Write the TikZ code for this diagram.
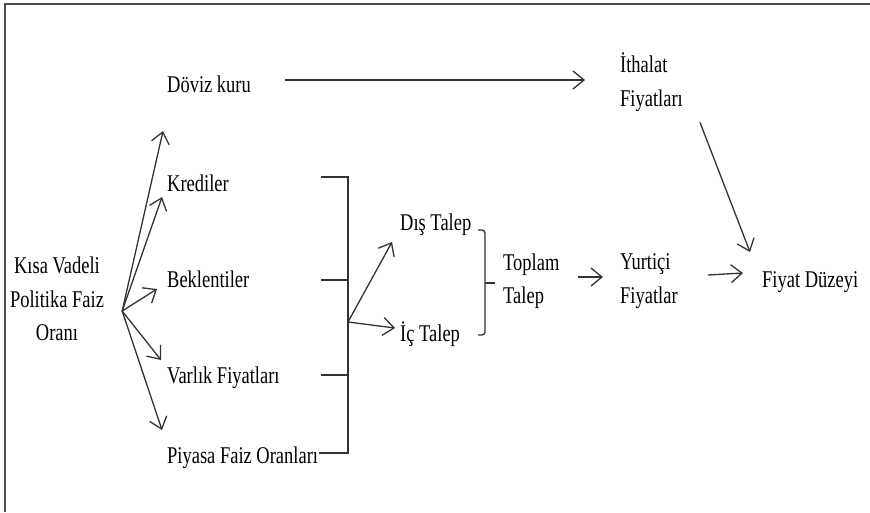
\documentclass[tikz,border=0pt]{standalone}
\usepackage{fontspec}
\setmainfont{Liberation Serif}[FakeStretch=0.77]
\usetikzlibrary{arrows.meta,calc}
\begin{document}
\begin{tikzpicture}[x=1pt,y=-1pt,
  lbl/.style={inner sep=0pt, font=\fontsize{24}{33.5}\selectfont, text=black},
  ln/.style={draw=black!80, line width=1.3pt},
  arr/.style={ln, -{Straight Barb[length=11pt,width=18pt]}},
  frame/.style={draw=black!70, line width=2pt}
]
\useasboundingbox (0,0) rectangle (870,512);
\draw[frame] (5,512) -- (5,4) -- (870,4);

% nodes
\node[lbl, anchor=base west] (dk) at (167,92) {Döviz kuru};
\node[lbl, anchor=base west] (kr) at (167,191) {Krediler};
\node[lbl, anchor=base west] (bk) at (167,287) {Beklentiler};
\node[lbl, anchor=base west] (vf) at (167,383) {Varlık Fiyatları};
\node[lbl, anchor=base west] (pf) at (167,463) {Piyasa Faiz Oranları};
\node[lbl, align=center] (ks) at (57,299) {Kısa Vadeli\\Politika Faiz\\Oranı};
\node[lbl, align=left, anchor=west] (it) at (620,82) {İthalat\\Fiyatları};
\node[lbl, anchor=base west] (dt) at (400,230) {Dış Talep};
\node[lbl, anchor=base west] (ic) at (400,341) {İç Talep};
\node[lbl, align=left, anchor=west] (tt) at (503,281) {Toplam\\Talep};
\node[lbl, align=left, anchor=west] (yf) at (620,281) {Yurtiçi\\Fiyatlar};
\node[lbl, anchor=base west] (fd) at (762,287) {Fiyat Düzeyi};

% fan from policy rate
\coordinate (src) at ($(ks.east)+(18,12)$);
\draw[arr] (src) -- ($(dk.base west)+(-4,39)$);
\draw[arr] (src) -- ($(kr.base west)+(-5,6)$);
\draw[arr] (src) -- ($(bk.base west)+(-10,2)$);
\draw[arr] (src) -- ($(vf.base west)+(-6,-23)$);
\draw[arr] (src) -- ($(pf.base west)+(-5,-33)$);

% exchange rate -> import prices
\draw[arr] ($(dk.base west)+(118,-12)$) -- ($(it.west)+(-35,-2)$);

% bracket of channels
\coordinate (jn) at (348,322);
\draw[ln] ($(kr.base west)+(154,-14)$) -- (348,177) -- (348,453) -- ($(pf.base east)+(1,-10)$);
\draw[ln] ($(bk.base west)+(154,-7)$) -- (348,280);
\draw[ln] ($(vf.base west)+(154,-8)$) -- (348,375);
\draw[arr] (jn) -- ($(dt.base west)+(-8,12)$);
\draw[arr] (jn) -- ($(ic.base west)+(-5,-13)$);

% brace to total demand
\draw[ln, rounded corners=3pt] (478,230) -- (485,230) -- (485,335) -- (478,335);
\draw[ln] (485,283) -- ($(tt.west)+(-8,2)$);

% to prices
\draw[arr] ($(tt.west)+(75,-4)$) -- ($(yf.west)+(-17,-4)$);
\draw[arr] ($(yf.west)+(88,-6)$) -- ($(fd.base west)+(-19,-14)$);
\draw[arr] ($(it.south west)+(80,11)$) -- ($(fd.base west)+(-12,-35)$);
\end{tikzpicture}
\end{document}
